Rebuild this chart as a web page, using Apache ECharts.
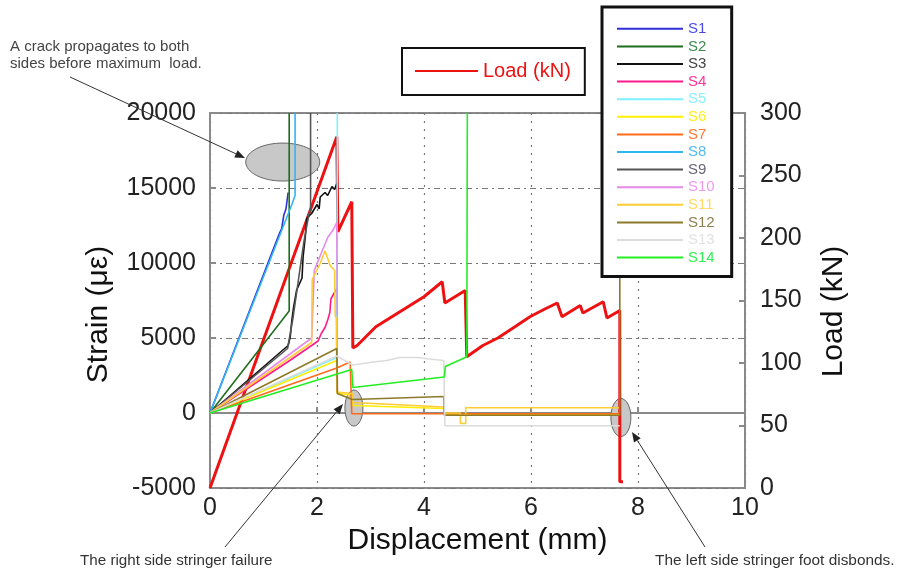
<!DOCTYPE html>
<html>
<head>
<meta charset="utf-8">
<script src="https://cdn.jsdelivr.net/npm/echarts@6/dist/echarts.min.js"></script>
<style>html,body{margin:0;padding:0;background:#fff}#c{width:901px;height:574px}</style>
</head>
<body>
<div id="c"></div>
<script>
// ---- data: [displacement (mm), value] ----
const xTicks = [0, 2, 4, 6, 8, 10];
const strainTicks = [-5000, 0, 5000, 10000, 15000, 20000];
const loadTicks = [0, 50, 100, 150, 200, 250, 300];

const load = [[0,0],[2.37,281],[2.39,205],[2.65,229],[2.67,112],[2.75,114],[3.1,129],[3.55,141],[4.0,153],[4.34,165],[4.39,148],[4.77,158],[4.80,105],[5.1,114],[5.38,120],[5.7,129],[5.98,137],[6.25,143],[6.49,148],[6.58,137],[6.92,146],[6.97,140],[7.35,149],[7.42,136],[7.66,142],[7.66,5],[7.72,5]];

const s1 = [[0,0],[1.30,12000],[1.34,12300],[1.38,13200],[1.42,13600],[1.46,14700]];
const s2 = [[0,0],[1.48,6800],[1.48,20000]];
const s3 = [[0,0],[1.46,4500],[1.50,5070],[1.53,6200],[1.56,7000],[1.62,8200],[1.72,9000],[1.74,10400],[1.78,11700],[1.81,13000],[1.90,13300],[2.00,13900],[2.04,13600],[2.06,14400],[2.15,14700],[2.20,14500],[2.28,15100],[2.33,14900],[2.37,15300]];
const s4 = [[0,0],[1.45,3400],[1.90,4500],[2.02,4800],[2.08,5300],[2.15,5700],[2.20,6200],[2.24,6700],[2.26,7600],[2.32,8000],[2.37,8300],[2.38,1500]];
const s5 = [[0,0],[2.37,3700],[2.38,20000]];
const s6 = [[0,0],[2.37,3500],[2.38,1300],[2.66,1200],[2.67,500],[4.37,300],[4.38,-100],[7.66,-100]];
const s7 = [[0,0],[2.37,3000],[2.62,3400],[2.65,-50],[7.66,-50]];
const s8 = [[0,0],[1.53,13900],[1.56,14200],[1.59,14500],[1.59,20000]];
const s9 = [[0,0],[1.45,4300],[1.55,6300],[1.65,8800],[1.75,11300],[1.85,13300],[1.88,13500],[1.88,20000]];
const s10 = [[0,0],[1.90,5000],[1.95,9500],[2.05,10400],[2.20,11700],[2.30,12200],[2.37,12700],[2.38,6500]];
const s11 = [[0,0],[1.90,4700],[1.91,8900],[2.05,9900],[2.15,10800],[2.25,9800],[2.33,9500],[2.34,6500],[2.36,6300],[2.37,1400],[2.66,1300],[2.67,700],[4.37,400],[4.38,0],[4.68,0],[4.68,-700],[4.78,-700],[4.78,350],[7.66,350]];
const s12 = [[0,0],[2.37,4300],[2.38,1300],[2.66,900],[2.67,1000],[4.37,1100],[4.38,-150],[7.66,-150],[7.66,20000]];
const s13 = [[0,0],[2.37,3800],[2.67,3200],[3.05,3400],[3.30,3500],[3.55,3700],[3.87,3700],[4.10,3600],[4.37,3500],[4.39,-850],[7.66,-850]];
const s14 = [[0,0],[2.65,2900],[2.67,1700],[4.38,2400],[4.40,3100],[4.80,3750],[4.81,20000]];

// annotation ellipse centres (displacement, strain)
const highlightAt = [[1.36,16730],[2.69,330],[7.68,-300]];

const strainNames = ['S1','S2','S3','S4','S5','S6','S7','S8','S9','S10','S11','S12','S13','S14'];
const strainData = [s1,s2,s3,s4,s5,s6,s7,s8,s9,s10,s11,s12,s13,s14];
const strainColors = ['#2f2fd8','#1f6e1f','#111111','#ff1a8c','#7df0ff','#ffee00','#ff6a1a','#2fb6ee','#555555','#e58ae8','#ffcc33','#8c7a2a','#dcdcdc','#22ee22'];
const textColors = ['#4a4ae8','#3f8a4f','#444444','#ff3399','#88f0ff','#ffee22','#ff7733','#55bbee','#666677','#ee99ee','#ffd966','#8f8050','#e2e2e2','#33ee55'];

const FONT = 'Liberation Sans, Arial, sans-serif';
const chart = echarts.init(document.getElementById('c'), null, {renderer: 'canvas'});

const ellRadii = [[37,19],[9,18],[10,19]];
const series = [{
  type: 'custom', yAxisIndex: 0, data: highlightAt, z: 1, silent: true, clip: false,
  renderItem: (params, api) => {
    const c = api.coord([api.value(0), api.value(1)]);
    const r = ellRadii[params.dataIndex];
    return {type: 'ellipse', shape: {cx: c[0], cy: c[1], rx: r[0], ry: r[1]}, style: {fill: '#c8c8c8', stroke: '#666', lineWidth: 1}};
  }
}, {
  name: 'Load (kN)', type: 'line', yAxisIndex: 1, data: load, symbol: 'none',
  lineStyle: {color: '#ee1111', width: 3}, itemStyle: {color: '#ee1111'}, z: 4
}];
strainData.forEach((d, i) => {
  series.push({
    name: strainNames[i], type: 'line', yAxisIndex: 0, data: d, symbol: 'none',
    lineStyle: {color: strainColors[i], width: 1.6}, itemStyle: {color: strainColors[i]}, z: 5
  });
});

const axisLbl = {fontSize: 25, color: '#222', fontFamily: FONT};
const nameTs = {fontSize: 30, color: '#111', fontFamily: FONT};

chart.setOption({
  animation: false,
  backgroundColor: '#fff',
  grid: {left: 210, right: 156, top: 113, bottom: 86, show: true, borderColor: '#8a8a8a', borderWidth: 2, backgroundColor: 'transparent'},
  xAxis: {
    type: 'value', min: xTicks[0], max: xTicks[xTicks.length - 1], interval: 2,
    name: 'Displacement (mm)', nameLocation: 'middle', nameGap: 28, nameTextStyle: nameTs,
    axisLine: {lineStyle: {color: '#8a8a8a', width: 2}},
    axisTick: {inside: true, length: 6, lineStyle: {color: '#8a8a8a', width: 2}},
    axisLabel: Object.assign({margin: 8}, axisLbl),
    splitLine: {show: true, lineStyle: {color: '#777', type: [2, 6], width: 1.2}}
  },
  yAxis: [{
    type: 'value', min: strainTicks[0], max: strainTicks[strainTicks.length - 1], interval: 5000,
    name: 'Strain (\u03bc\u03b5)', nameLocation: 'middle', nameGap: 96, nameRotate: 90,
    nameTextStyle: Object.assign({padding: [0, 28, 0, 0]}, nameTs),
    axisLine: {show: true, lineStyle: {color: '#8a8a8a', width: 2}},
    axisTick: {show: true, inside: true, length: 6, lineStyle: {color: '#8a8a8a', width: 2}},
    axisLabel: Object.assign({margin: 14, formatter: v => String(v)}, axisLbl),
    splitLine: {show: true, lineStyle: {color: '#777', type: [6, 4, 2, 4], width: 1.2}}
  }, {
    type: 'value', position: 'right', min: loadTicks[0], max: loadTicks[loadTicks.length - 1], interval: 50,
    name: 'Load (kN)', nameLocation: 'middle', nameGap: 74, nameRotate: 90,
    nameTextStyle: Object.assign({padding: [0, 22, 0, 0]}, nameTs),
    axisLine: {show: true, lineStyle: {color: '#8a8a8a', width: 2}},
    axisTick: {show: true, inside: true, length: 6, lineStyle: {color: '#8a8a8a', width: 2}},
    axisLabel: Object.assign({margin: 15, formatter: v => String(v)}, axisLbl),
    splitLine: {show: false}
  }],
  legend: [{
    data: [{name: 'Load (kN)', textStyle: {color: '#ee1111'}}],
    left: 402, top: 48, orient: 'horizontal', selectedMode: false, z: 20,
    icon: 'rect', itemWidth: 63, itemHeight: 2, itemGap: 0, itemTextGap: 12,
    padding: [13, 14, 14, 13], borderColor: '#111', borderWidth: 2, backgroundColor: '#fff',
    textStyle: {fontSize: 20, lineHeight: 20, fontFamily: FONT}
  }, {
    data: strainNames.map((n, i) => ({name: n, textStyle: {color: textColors[i]}})),
    left: 602, top: 7, orient: 'vertical', selectedMode: false, z: 20,
    icon: 'rect', itemWidth: 66, itemHeight: 2, itemGap: 0, itemTextGap: 9,
    padding: [13, 17, 10, 15], borderColor: '#111', borderWidth: 3, backgroundColor: '#fff',
    textStyle: {fontSize: 15, lineHeight: 17.6, fontFamily: FONT}
  }],
  series: series
});

// ---- annotation arrows and notes ----
function arrow(x1, y1, x2, y2) {
  const a = Math.atan2(y2 - y1, x2 - x1), L = 10, W = 4;
  const bx = x2 - L * Math.cos(a), by = y2 - L * Math.sin(a);
  return [
    {type: 'line', z: 30, shape: {x1, y1, x2: bx, y2: by}, style: {stroke: '#333', lineWidth: 1}},
    {type: 'polygon', z: 30, shape: {points: [[x2, y2], [bx - W * Math.sin(a), by + W * Math.cos(a)], [bx + W * Math.sin(a), by - W * Math.cos(a)]]}, style: {fill: '#222'}}
  ];
}
chart.setOption({
  graphic: [
    ...arrow(70, 77, 245, 158),
    ...arrow(225, 547, 343, 404),
    ...arrow(705, 547, 632, 432),
    {type: 'text', z: 30, left: 10, top: 38, style: {text: 'A crack propagates to both\nsides before maximum  load.', fontSize: 15, lineHeight: 17, fill: '#444', fontFamily: FONT}},
    {type: 'text', z: 30, left: 80, top: 553, style: {text: 'The right side stringer failure', fontSize: 15.2, fill: '#333', fontFamily: FONT}},
    {type: 'text', z: 30, left: 655, top: 553, style: {text: 'The left side stringer foot disbonds.', fontSize: 15.4, fill: '#333', fontFamily: FONT}}
  ]
});
</script>
</body>
</html>
